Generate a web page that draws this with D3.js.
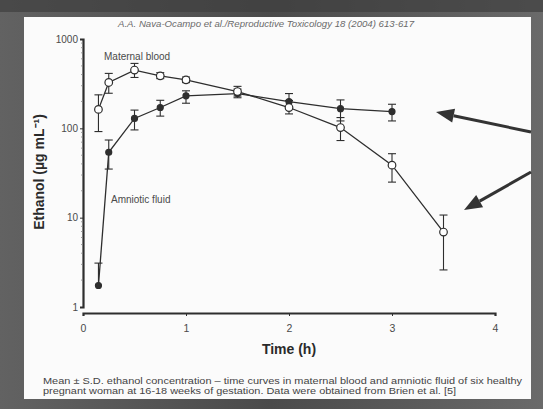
<!DOCTYPE html>
<html><head><meta charset="utf-8">
<script src="https://cdn.jsdelivr.net/npm/d3@7"></script>
<style>html,body{margin:0;padding:0;background:#555;}svg{display:block;}</style>
</head><body>
<script>
const times = [0.15, 0.25, 0.5, 0.75, 1.0, 1.5, 2.0, 2.5, 3.0, 3.5];
const maternalMean = [163, 326, 449, 387, 349, 258, 171, 102, 38.7, 6.9];
const maternalHi   = [237, 412, 533, 420, 375, 295, 205, 132, 52, 10.7];
const maternalLo   = [92, 247, 371, 360, 325, 230, 145, 73, 25, 2.6];
const amnioticTimes = [0.15, 0.25, 0.5, 0.75, 1.0, 1.5, 2.0, 2.5, 3.0];
const amnioticMean = [1.74, 54, 129, 171, 231, 245, 199, 166, 154];
const amnioticHi   = [3.1, 74, 160, 206, 263, 275, 245, 208, 186];
const amnioticLo   = [1.74, 35, 96, 137, 191, 220, 165, 121, 121];
const yTicks = [1, 10, 100, 1000];
const xTicks = [0, 1, 2, 3, 4];

const W = 543, H = 409;
const svg = d3.select("body").append("svg").attr("width", W).attr("height", H);
const defs = svg.append("defs");
const g1 = defs.append("linearGradient").attr("id","bg").attr("x1",0).attr("y1",0).attr("x2",1).attr("y2",0);
g1.append("stop").attr("offset","0").attr("stop-color","#626262");
g1.append("stop").attr("offset","0.5").attr("stop-color","#4a4a4a");
g1.append("stop").attr("offset","1").attr("stop-color","#6a6a6a");
svg.append("rect").attr("width", W).attr("height", H).attr("fill", "url(#bg)");
svg.append("rect").attr("x",0).attr("y",0).attr("width",W).attr("height",12).attr("fill","#3e3e3e").attr("opacity",0.7);
svg.append("rect").attr("x",24).attr("y",17).attr("width",507).attr("height",382).attr("fill","#fbfbfb");

const ink = "#2e2e2e", txt = "#4a4a4a";
const x = d3.scaleLinear().domain([0, 4]).range([83, 495]);
const y = d3.scaleLog().domain([1, 1000]).range([307, 39]);

// title
svg.append("text").attr("x", 118).attr("y", 27).attr("textLength",296).attr("lengthAdjust","spacingAndGlyphs")
  .attr("font-family","Liberation Sans, Arial, sans-serif").attr("font-style","italic")
  .attr("font-size", 8.5).attr("fill", "#6a6a6a")
  .text("A.A. Nava-Ocampo et al./Reproductive Toxicology 18 (2004) 613-617");

// y axis
const yAxis = d3.axisLeft(y).tickValues(yTicks).tickFormat(d3.format("d")).tickSize(3).tickPadding(2);
const ya = svg.append("g").attr("transform","translate(83,0)").call(yAxis);
ya.select(".domain").attr("stroke", ink).attr("stroke-width", 2.2);
ya.selectAll(".tick line").attr("stroke", ink);
ya.selectAll(".tick text").attr("font-family","Liberation Sans, Arial, sans-serif").attr("font-size",10).attr("fill",txt);
// minor ticks
const minor = [];
[1,10,100].forEach(b => { for (let k=2;k<10;k++) minor.push(b*k); });
svg.append("g").selectAll("line").data(minor).join("line")
  .attr("x1",81).attr("x2",83).attr("y1",d=>y(d)).attr("y2",d=>y(d))
  .attr("stroke","#888").attr("stroke-width",0.8);

// x axis
const xAxis = d3.axisBottom(x).tickValues(xTicks).tickFormat(d3.format("d")).tickSize(3).tickPadding(9);
const xa = svg.append("g").attr("transform","translate(0,313)").call(xAxis);
xa.select(".domain").attr("stroke", ink).attr("stroke-width", 2.2);
xa.selectAll(".tick line").attr("stroke", ink);
xa.selectAll(".tick text").attr("font-family","Liberation Sans, Arial, sans-serif").attr("font-size",10.5).attr("fill",txt);

// axis titles
svg.append("text").attr("x", 289).attr("y", 354).attr("text-anchor","middle")
  .attr("font-family","Liberation Sans, Arial, sans-serif").attr("font-weight","bold").attr("font-size",14).attr("fill","#2a2a2a")
  .text("Time (h)");
svg.append("text").attr("transform","translate(44,172) rotate(-90)").attr("text-anchor","middle")
  .attr("font-family","Liberation Sans, Arial, sans-serif").attr("font-weight","bold").attr("font-size",14).attr("fill","#2a2a2a")
  .text("Ethanol (µg mL⁻¹)");

// series labels
svg.append("text").attr("x",104).attr("y",60).attr("font-family","Liberation Sans, Arial, sans-serif").attr("font-size",10).attr("fill",txt).text("Maternal blood");
svg.append("text").attr("x",111).attr("y",203).attr("font-family","Liberation Sans, Arial, sans-serif").attr("font-size",10).attr("fill",txt).text("Amniotic fluid");

const line = d3.line().x(d=>x(d[0])).y(d=>y(d[1]));
function series(ts, mean, hi, lo, filled) {
  const pts = ts.map((t,i)=>[t, mean[i], hi[i], lo[i]]);
  const g = svg.append("g");
  g.append("path").attr("d", line(pts)).attr("fill","none").attr("stroke", ink).attr("stroke-width",1.3);
  const eb = g.selectAll(".eb").data(pts).join("g");
  eb.append("line").attr("x1",d=>x(d[0])).attr("x2",d=>x(d[0])).attr("y1",d=>y(d[2])).attr("y2",d=>y(d[3])).attr("stroke",ink).attr("stroke-width",1.1);
  eb.append("line").attr("x1",d=>x(d[0])-4).attr("x2",d=>x(d[0])+4).attr("y1",d=>y(d[2])).attr("y2",d=>y(d[2])).attr("stroke",ink).attr("stroke-width",1.1);
  eb.filter(d=>d[3]<d[1]).append("line").attr("x1",d=>x(d[0])-4).attr("x2",d=>x(d[0])+4).attr("y1",d=>y(d[3])).attr("y2",d=>y(d[3])).attr("stroke",ink).attr("stroke-width",1.1);
  g.selectAll("circle").data(pts).join("circle").attr("cx",d=>x(d[0])).attr("cy",d=>y(d[1]))
    .attr("r", filled ? 3 : 3.8).attr("fill", filled ? ink : "#fff").attr("stroke", ink).attr("stroke-width",1.2);
}
series(amnioticTimes, amnioticMean, amnioticHi, amnioticLo, true);
series(times, maternalMean, maternalHi, maternalLo, false);

// arrows
function arrow(x1,y1,x2,y2){
  const a = Math.atan2(y2-y1, x2-x1), L = 18, Wd = 7;
  const bx = x2 - L*Math.cos(a), by = y2 - L*Math.sin(a);
  svg.append("line").attr("x1",x1).attr("y1",y1).attr("x2",bx).attr("y2",by).attr("stroke","#333").attr("stroke-width",3);
  const p = [[x2,y2],[bx + Wd*Math.sin(a), by - Wd*Math.cos(a)],[bx - Wd*Math.sin(a), by + Wd*Math.cos(a)]];
  svg.append("path").attr("d","M"+p.map(q=>q.join(",")).join("L")+"Z").attr("fill","#333");
}
arrow(531,132,436,112);
arrow(531,172,464,210);

// caption
const cap = svg.append("g").attr("font-family","Liberation Sans, Arial, sans-serif").attr("font-size",8.6).attr("fill","#444");
cap.append("text").attr("x",43).attr("y",384).attr("textLength",479).attr("lengthAdjust","spacingAndGlyphs")
  .text("Mean ± S.D. ethanol concentration – time curves in maternal blood and amniotic fluid of six healthy");
cap.append("text").attr("x",43).attr("y",394).attr("textLength",413).attr("lengthAdjust","spacingAndGlyphs")
  .text("pregnant woman at 16-18 weeks of gestation.  Data were obtained from Brien et al. [5]");
</script>
</body></html>
